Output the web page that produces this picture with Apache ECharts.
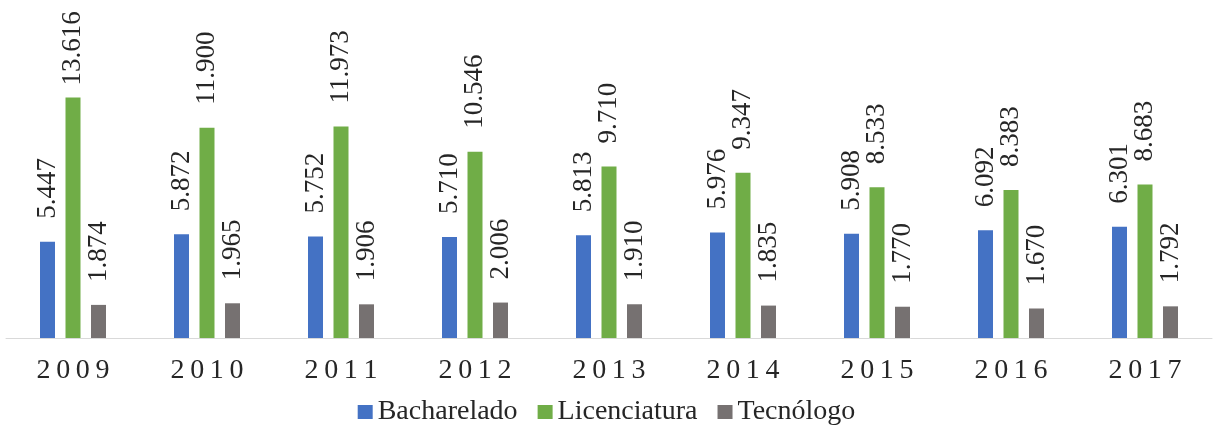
<!doctype html>
<html>
<head>
<meta charset="UTF-8">
<title>Bacharelado, Licenciatura, Tecnólogo 2009-2017</title>
<script src="https://cdn.jsdelivr.net/npm/echarts@6/dist/echarts.min.js"></script>
<style>
  html, body { margin: 0; padding: 0; background: #fff; }
  #main { width: 1213px; height: 432px; }
</style>
</head>
<body>
<div id="main"></div>
<script>
var anos = ['2009', '2010', '2011', '2012', '2013', '2014', '2015', '2016', '2017'];
var bacharelado = [5447, 5872, 5752, 5710, 5813, 5976, 5908, 6092, 6301];
var licenciatura = [13616, 11900, 11973, 10546, 9710, 9347, 8533, 8383, 8683];
var tecnologo = [1874, 1965, 1906, 2006, 1910, 1835, 1770, 1670, 1792];

// 5447 -> "5.447"
function fmt(v) {
    return String(v).replace(/\B(?=(\d{3})+(?!\d))/g, '.');
}

var maior = Math.max.apply(null, licenciatura);

function serie(nome, dados, cor) {
    return {
        name: nome,
        type: 'bar',
        barWidth: 15,
        barGap: '70%',
        itemStyle: { color: cor },
        label: {
            show: true,
            position: 'top',
            rotate: 90,
            align: 'left',
            verticalAlign: 'middle',
            distance: 23,
            fontFamily: 'Liberation Serif',
            fontSize: 27,
            color: '#262626',
            formatter: function (p) { return fmt(p.value); }
        },
        // o rótulo mais alto fica mais próximo da barra (limite do gráfico)
        data: dados.map(function (v) {
            return v === maior ? { value: v, label: { distance: 12 } } : v;
        })
    };
}

var myChart = echarts.init(document.getElementById('main'));

var option = {
    animation: false,
    grid: { left: 6, right: 1, top: 20, bottom: 94, containLabel: false },
    legend: {
        bottom: 1,
        left: 'center',
        itemWidth: 15,
        itemHeight: 14,
        itemGap: 20,
        icon: 'rect',
        textStyle: { fontFamily: 'Liberation Serif', fontSize: 28, color: '#262626' },
        data: ['Bacharelado', 'Licenciatura', 'Tecnólogo']
    },
    xAxis: {
        type: 'category',
        data: anos,
        axisLine: { lineStyle: { color: '#d9d9d9', width: 1 } },
        axisTick: { show: false },
        axisLabel: {
            margin: 19,
            fontFamily: 'Liberation Serif',
            fontSize: 28,
            color: '#262626',
            formatter: function (v) { return v.split('').join('\u2009'); }
        }
    },
    yAxis: {
        type: 'value',
        min: 0,
        max: 18000,
        show: false,
        splitLine: { show: false }
    },
    series: [
        serie('Bacharelado', bacharelado, '#4472c4'),
        serie('Licenciatura', licenciatura, '#70ad47'),
        serie('Tecnólogo', tecnologo, '#767171')
    ]
};

myChart.setOption(option);
</script>
</body>
</html>
